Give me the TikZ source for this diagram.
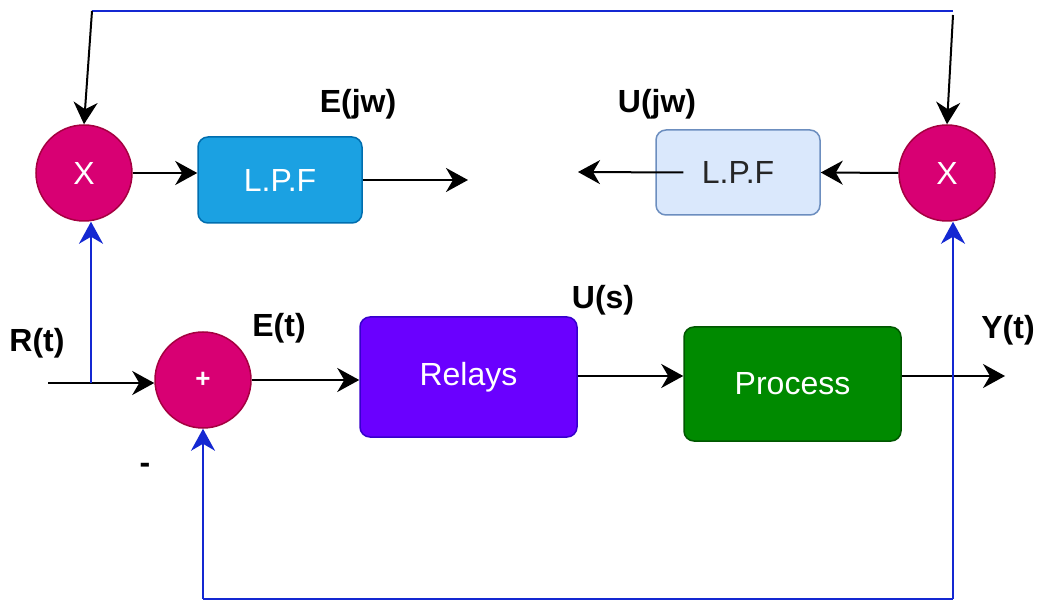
\documentclass[tikz,border=0pt]{standalone}
\usepackage{fontspec}
\setmainfont{Liberation Sans}
\usetikzlibrary{arrows.meta,positioning,calc}

\definecolor{mulfill}{HTML}{D80073}
\definecolor{mulline}{HTML}{A50040}
\definecolor{lpffill}{HTML}{1BA1E2}
\definecolor{lpfline}{HTML}{006EAF}
\definecolor{lpflight}{HTML}{DAE8FC}
\definecolor{lpflightline}{HTML}{6C8EBF}
\definecolor{relayfill}{HTML}{6A00FF}
\definecolor{relayline}{HTML}{3700CC}
\definecolor{procfill}{HTML}{008A00}
\definecolor{procline}{HTML}{005700}
\definecolor{fbblue}{HTML}{1428D2}

\begin{document}
\begin{tikzpicture}[x=1pt,y=-1pt,
  every node/.style={font=\fontsize{32}{38}\selectfont},
  mult/.style={circle,fill=mulfill,draw=mulline,line width=1.5pt,minimum size=96pt,inner sep=0pt,text=white},
  blk/.style={rounded corners=10pt,line width=1.5pt,inner sep=0pt,text=white},
  lbl/.style={font=\fontsize{32}{38}\selectfont\bfseries},
  arr/.style={line width=2pt,-{Stealth[length=22pt,width=24pt,inset=7pt]}},
  fb/.style={arr,draw=fbblue,-{Stealth[length=22pt,width=24pt,inset=7pt,fill=fbblue]}},
  fbline/.style={line width=2pt,draw=fbblue}]
\useasboundingbox (0,0) rectangle (1038,601);

% multipliers and low-pass filters
\node[mult] (mulL) at (84,173) {X};
\node[mult] (mulR) at (947,173) {X};
\node[blk,fill=lpffill,draw=lpfline,minimum width=164pt,minimum height=86pt] (lpfL) at (280,180) {L.P.F};
\node[blk,fill=lpflight,draw=lpflightline,minimum width=164pt,minimum height=85pt,text=black!85] (lpfR) at (738,172.5) {L.P.F};

% main loop
\node[mult,font=\fontsize{26}{30}\selectfont\bfseries] (sum) at (203,380) {+};
\node[blk,fill=relayfill,draw=relayline,minimum width=217pt,minimum height=120pt] (relays) at (468.5,377) {Relays};
\node[blk,fill=procfill,draw=procline,minimum width=217pt,minimum height=114pt] (process) at (792.5,384) {Process};

% free ends
\coordinate (rin) at (48,383);
\coordinate (rtap) at (91,383);
\coordinate (yout) at (1005,376);
\coordinate (ejw) at (468,180);
\coordinate (ujw) at (578,172);
\coordinate (tl) at (92,11);
\coordinate (tr) at (953,11);
\coordinate (bl) at (203,599);
\coordinate (br) at (953,599);

% labels
\node[lbl] at (358,104) {E(jw)};
\node[lbl] at (657,104) {U(jw)};
\node[lbl] at (37,343) {R(t)};
\node[lbl] at (279,328) {E(t)};
\node[lbl] at (603,300) {U(s)};
\node[lbl] at (1008,330) {Y(t)};
\node[lbl] at (145,468) {-};

% signal arrows
\draw[arr] (rin) -- (rin -| sum.west);
\draw[arr] (sum.east) -- (sum.east -| relays.west);
\draw[arr] (relays.east |- 0,376) -- (relays.east |- 0,376 -| process.west);
\draw[arr] (yout -| process.east) -- (yout);
\draw[arr] (mulL.east) -- (mulL.east -| lpfL.west);
\draw[arr] (lpfL.east) -- (ejw);
\draw[arr] (mulR.west) -- (lpfR.east);
\draw[arr] ($(lpfR.west)+(28,0)$) -- (ujw);

% reference and feedback paths
\draw[fbline] (tl) -- (tr);
\draw[arr] (tl) -- (mulL.north);
\draw[arr] ($(tr)+(0,4)$) -- (mulR.north);
\draw[fb] (rtap) -- (rtap |- mulL.south);
\draw[fbline] (bl) -- (br);
\draw[fb] (bl) -- (sum.south);
\draw[fb] (br) -- (br |- mulR.south);
\end{tikzpicture}
\end{document}
